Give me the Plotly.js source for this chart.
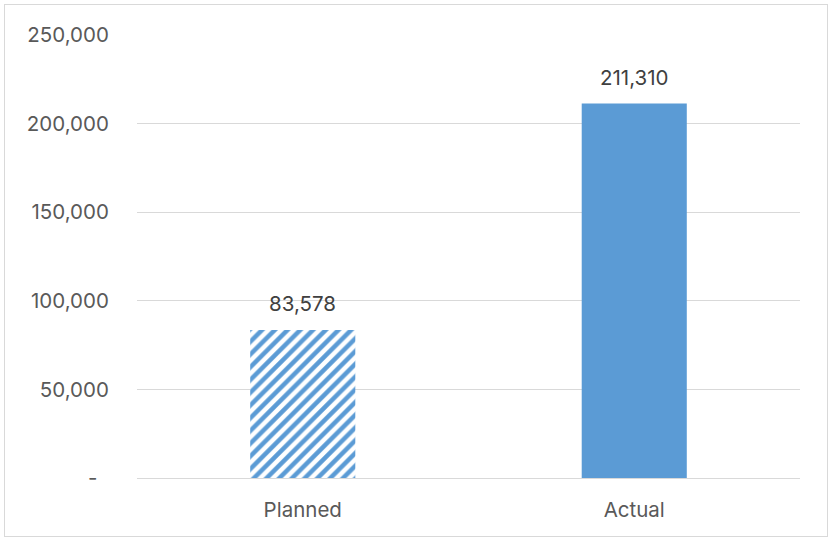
<!DOCTYPE html>
<html><head><meta charset="utf-8">
<script src="https://cdn.plot.ly/plotly-3.0.1.min.js"></script>
<style>
html,body{margin:0;padding:0;background:#fff;}
#wrap{position:relative;width:833px;height:541px;}
#chart{position:absolute;left:0;top:0;width:833px;height:541px;}
#frame{position:absolute;left:4px;top:4px;width:824px;height:533px;border:1px solid #d9d9d9;box-sizing:border-box;pointer-events:none;}
</style></head>
<body>
<div id="wrap"><div id="chart"></div><div id="frame"></div></div>
<script>
const categories = ["Planned", "Actual"];
const values = [83578, 211310];
const tickVals = [0, 50000, 100000, 150000, 200000, 250000];
const tickLabels = ["-\u00a0\u00a0", "50,000", "100,000", "150,000", "200,000", "250,000"];

const fmt = v => v.toLocaleString("en-US");
const FONT = "Inter, Open Sans, sans-serif";
const FS = 20.5;

const planned = {
  type: "bar",
  x: [categories[0]],
  y: [values[0]],
  marker: {
    color: "#ffffff",
    pattern: {shape: "/", fgcolor: "#5b9bd5", bgcolor: "#ffffff", fgopacity: 1, size: 9, solidity: 0.5, fillmode: "overlay"},
    line: {width: 0}
  },
  hoverinfo: "none"
};
const actual = {
  type: "bar",
  x: [categories[1]],
  y: [values[1]],
  marker: {color: "#5b9bd5", line: {width: 0}},
  hoverinfo: "none"
};

const annotations = categories.map((c, i) => ({
  x: c, y: values[i], xref: "x", yref: "y",
  text: fmt(values[i]), showarrow: false, yshift: 26,
  font: {family: FONT, size: FS, color: "#404040"}
}));

const layout = {
  width: 833, height: 541,
  margin: {l: 137, r: 33, t: 35, b: 63},
  paper_bgcolor: "rgba(0,0,0,0)", plot_bgcolor: "#ffffff",
  barmode: "overlay",
  bargap: 0.683,
  showlegend: false,
  font: {family: FONT, size: FS, color: "#595959"},
  xaxis: {
    type: "category", categoryarray: categories,
    showgrid: false, zeroline: false, showline: false,
    ticks: "outside", ticklen: 13, tickcolor: "rgba(0,0,0,0)",
    tickfont: {family: FONT, size: FS, color: "#595959"}
  },
  yaxis: {
    range: [0, 250000], tickvals: tickVals, ticktext: tickLabels,
    showgrid: true, gridcolor: "#d9d9d9", gridwidth: 1,
    zeroline: true, zerolinecolor: "#d9d9d9", zerolinewidth: 1,
    showline: false,
    ticks: "outside", ticklen: 23, tickcolor: "rgba(0,0,0,0)",
    tickfont: {family: FONT, size: FS, color: "#595959"}
  },
  annotations: annotations
};

Plotly.newPlot("chart", [planned, actual], layout, {staticPlot: true, displayModeBar: false});
</script>
</body></html>
